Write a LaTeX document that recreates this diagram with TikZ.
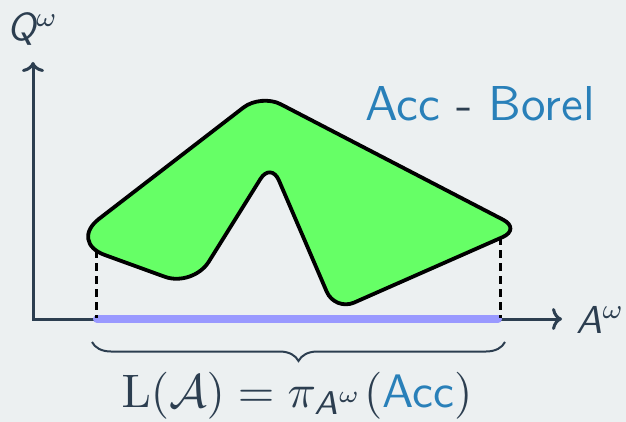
\documentclass[tikz,border=0pt]{standalone}
\usepackage{fix-cm}
\usepackage{amsmath}
\usepackage{graphicx}
\usetikzlibrary{calc,arrows.meta,decorations.pathreplacing}
\definecolor{bgc}{HTML}{ECF0F1}
\definecolor{axc}{HTML}{2C3E50}
\definecolor{bluet}{HTML}{2980B9}
\definecolor{greenf}{HTML}{66FF66}
\definecolor{purp}{HTML}{9999FF}
\tikzset{
  axis/.style={draw=axc, line width=3pt, line join=miter},
  blob/.style={draw=black, fill=greenf, line width=3.8pt, line join=round},
  proj/.style={draw=black, line width=3pt, dash pattern=on 8pt off 5pt},
  lang/.style={draw=purp, line width=8pt, line cap=round},
  bracec/.style={draw=axc, line width=2pt, decorate, decoration={brace, mirror, amplitude=19pt}},
  lbl/.style={inner sep=0pt, text=axc}
}
\begin{document}
\begin{tikzpicture}[x=1pt,y=-1pt]
\fill[bgc] (0,0) rectangle (626,422);
\useasboundingbox (0,0) rectangle (626,422);
% axes
\coordinate (O) at (33,319);
\coordinate (Ytip) at (33,62);
\coordinate (Xtip) at (562,319);
\draw[axis, {To[length=10pt,width=22pt]}-{To[length=10pt,width=22pt]}] (Ytip) -- (O) -- (Xtip);
\node[lbl, anchor=base west] (Q) at (7,41) {\scalebox{3.9}{\sffamily\slshape Q$^{\omega}$}};
\node[lbl, anchor=base west] (A) at (576,333) {\scalebox{3.9}{\sffamily\slshape A$^{\omega}$}};
% language segment
\coordinate (la) at (97,319);
\coordinate (lb) at (498,319);
\draw[lang] (la) -- (lb);
% dashed projections
\coordinate (pa) at (96,250);
\coordinate (pa0) at (96,318);
\coordinate (pb) at (500,237);
\coordinate (pb0) at (500,318);
\draw[proj] (pa) -- (pa0);
\draw[proj] (pb) -- (pb0);
% blob
\coordinate (L) at (69,242);
\coordinate (T) at (261,94);
\coordinate (R) at (521,229);
\coordinate (B) at (335,311);
\coordinate (S) at (271,162);
\coordinate (BL) at (193,287);
\draw[blob] ($(L)!38pt!(T)$) -- ($(T)!22pt!(L)$)
  .. controls ($(T)!9.85pt!(L)$) and ($(T)!9.85pt!(R)$) .. ($(T)!22pt!(R)$)
  -- ($(R)!20pt!(T)$)
  .. controls ($(R)!9pt!(T)$) and ($(R)!9pt!(B)$) .. ($(R)!20pt!(B)$)
  -- ($(B)!21pt!(R)$)
  .. controls ($(B)!9.4pt!(R)$) and ($(B)!9.4pt!(S)$) .. ($(B)!21pt!(S)$)
  -- ($(S)!20pt!(B)$)
  .. controls ($(S)!9pt!(B)$) and ($(S)!9pt!(BL)$) .. ($(S)!20pt!(BL)$)
  -- ($(BL)!30pt!(S)$)
  .. controls ($(BL)!13.4pt!(S)$) and ($(BL)!13.4pt!(L)$) .. ($(BL)!30pt!(L)$)
  -- ($(L)!38pt!(BL)$)
  .. controls ($(L)!17pt!(BL)$) and ($(L)!17pt!(T)$) .. ($(L)!38pt!(T)$) -- cycle;
% title
\node[lbl, anchor=base west] (title) at (365,121) {\scalebox{4.9}{\sffamily\textcolor{bluet}{Acc} - \textcolor{bluet}{Borel}}};
% brace
\coordinate (ba) at (92,342);
\coordinate (bb) at (505,342);
\draw[bracec] (ba) -- (bb);
\node[lbl, anchor=base] (lab) at (297,407) {\scalebox{4.7}{$\mathrm{L}(\mathcal{A}) = \pi_{\text{\sffamily\slshape A}^{\omega}}(\text{\sffamily\textcolor{bluet}{Acc}})$}};
\end{tikzpicture}
\end{document}
